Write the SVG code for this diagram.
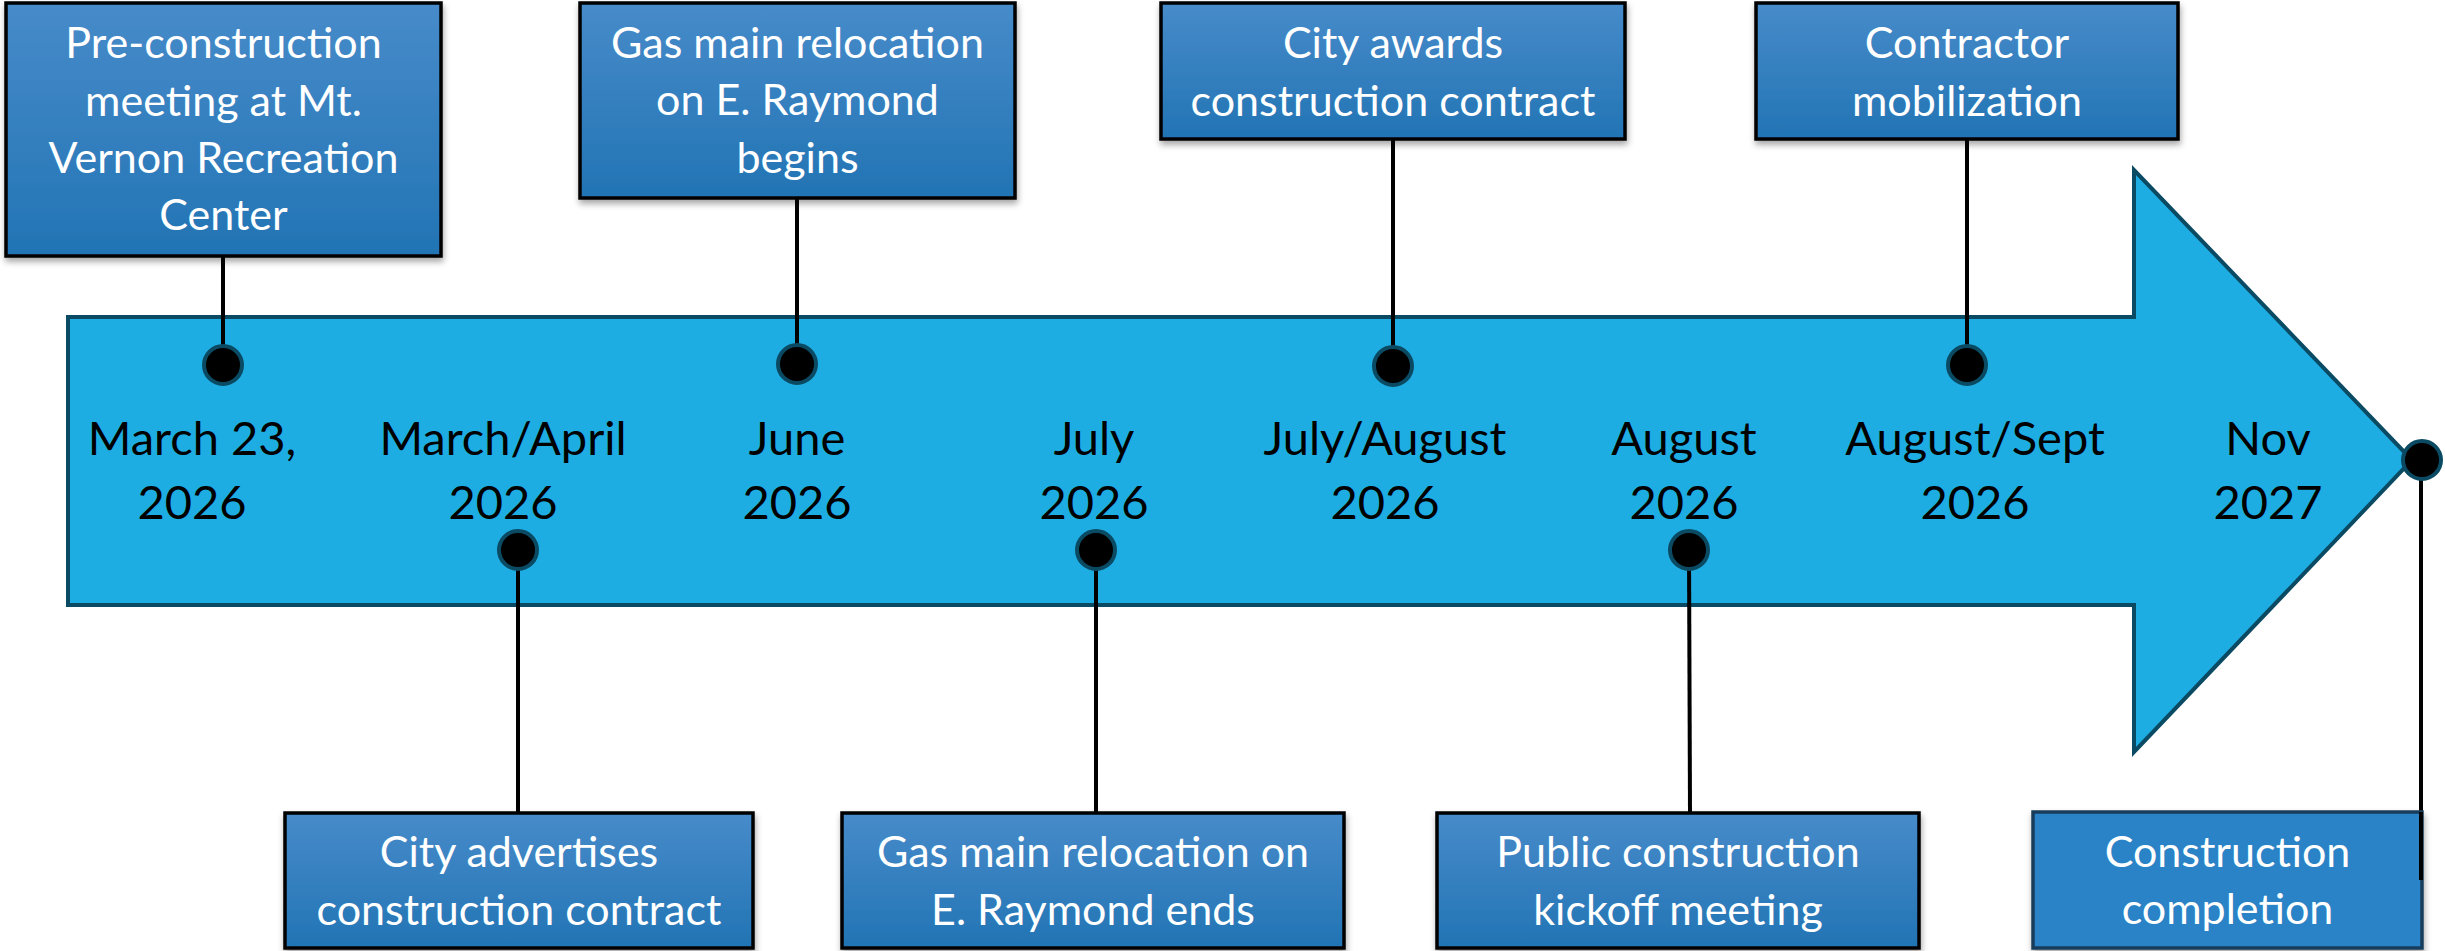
<svg xmlns="http://www.w3.org/2000/svg" width="2445" height="951" viewBox="0 0 2445 951">
<defs>
<linearGradient id="boxg" x1="0" y1="0" x2="0" y2="1">
<stop offset="0" stop-color="#478bca"/>
<stop offset="1" stop-color="#2274b4"/>
</linearGradient>
<filter id="sh" x="-5%" y="-10%" width="110%" height="125%">
<feDropShadow dx="1" dy="4" stdDeviation="3" flood-color="#000" flood-opacity="0.35"/>
</filter>
<style>
.box{fill:url(#boxg);stroke:#000;stroke-width:3.5;filter:url(#sh)}
.box2{fill:#2983c6;stroke:#173d5c;stroke-width:3.5;filter:url(#sh)}
.bt{font-family:Lato,"Open Sans","Liberation Sans",sans-serif;font-size:43px;fill:#fff;text-anchor:middle}
.dt{font-family:Lato,"Open Sans","Liberation Sans",sans-serif;font-size:47px;fill:#000;text-anchor:middle}
.ln{stroke:#000;stroke-width:4;fill:none}
.dot{fill:#000;stroke:#0b4a63;stroke-width:4}
</style>
</defs>
<rect width="2445" height="951" fill="#fff"/>
<g id="timeline-arrow">
<polygon points="68,317 2134,317 2134,170 2412,460 2134,752 2134,605 68,605" fill="#1eade3" stroke="#0b4a63" stroke-width="4" stroke-linejoin="miter"/>
</g>
<g id="dates">
<text class="dt" x="192" y="455">March 23,</text><text class="dt" x="192" y="519">2026</text>
<text class="dt" x="503" y="455">March/April</text><text class="dt" x="503" y="519">2026</text>
<text class="dt" x="797" y="455">June</text><text class="dt" x="797" y="519">2026</text>
<text class="dt" x="1094" y="455">July</text><text class="dt" x="1094" y="519">2026</text>
<text class="dt" x="1385" y="455">July/August</text><text class="dt" x="1385" y="519">2026</text>
<text class="dt" x="1684" y="455">August</text><text class="dt" x="1684" y="519">2026</text>
<text class="dt" x="1975" y="455">August/Sept</text><text class="dt" x="1975" y="519">2026</text>
<text class="dt" x="2268" y="455">Nov</text><text class="dt" x="2268" y="519">2027</text>
</g>
<g id="connectors">
<line class="ln" x1="223" y1="256" x2="223" y2="365"/>
<line class="ln" x1="797" y1="198" x2="797" y2="364"/>
<line class="ln" x1="1393" y1="139" x2="1393" y2="366"/>
<line class="ln" x1="1967" y1="139" x2="1967" y2="365"/>
<line class="ln" x1="518" y1="550" x2="518" y2="813"/>
<line class="ln" x1="1096" y1="550" x2="1096" y2="813"/>
<line class="ln" x1="1689" y1="550" x2="1690" y2="813"/>
<line class="ln" x1="2421" y1="460" x2="2421" y2="880"/>
<circle class="dot" cx="223" cy="365" r="19"/>
<circle class="dot" cx="797" cy="364" r="19"/>
<circle class="dot" cx="1393" cy="366" r="19"/>
<circle class="dot" cx="1967" cy="365" r="19"/>
<circle class="dot" cx="518" cy="550" r="19"/>
<circle class="dot" cx="1096" cy="550" r="19"/>
<circle class="dot" cx="1689" cy="550" r="19"/>
<circle class="dot" cx="2422" cy="460" r="19"/>
</g>
<g id="n-preconstruction">
<rect class="box" x="6" y="3" width="435" height="253"/>
<text class="bt" x="223.5" y="58">Pre-construction</text>
<text class="bt" x="223.5" y="116">meeting at Mt.</text>
<text class="bt" x="223.5" y="173">Vernon Recreation</text>
<text class="bt" x="223.5" y="230">Center</text>
</g>
<g id="n-gas-begins">
<rect class="box" x="580" y="3" width="435" height="195"/>
<text class="bt" x="797.5" y="58">Gas main relocation</text>
<text class="bt" x="797.5" y="115">on E. Raymond</text>
<text class="bt" x="797.5" y="173">begins</text>
</g>
<g id="n-awards">
<rect class="box" x="1161" y="3" width="464" height="136"/>
<text class="bt" x="1393" y="58">City awards</text>
<text class="bt" x="1393" y="116">construction contract</text>
</g>
<g id="n-mobilization">
<rect class="box" x="1756" y="3" width="422" height="136"/>
<text class="bt" x="1967" y="58">Contractor</text>
<text class="bt" x="1967" y="116">mobilization</text>
</g>
<g id="n-advertises">
<rect class="box" x="285" y="813" width="468" height="135"/>
<text class="bt" x="519" y="867">City advertises</text>
<text class="bt" x="519" y="925">construction contract</text>
</g>
<g id="n-gas-ends">
<rect class="box" x="842" y="813" width="502" height="135"/>
<text class="bt" x="1093" y="867">Gas main relocation on</text>
<text class="bt" x="1093" y="925">E. Raymond ends</text>
</g>
<g id="n-kickoff">
<rect class="box" x="1437" y="813" width="482" height="135"/>
<text class="bt" x="1678" y="867">Public construction</text>
<text class="bt" x="1678" y="925">kickoff meeting</text>
</g>
<g id="n-completion">
<rect class="box2" x="2033" y="812" width="389" height="136"/>
<text class="bt" x="2227.5" y="867">Construction</text>
<text class="bt" x="2227.5" y="924">completion</text>
</g>
<line class="ln" x1="2421" y1="812" x2="2421" y2="880"/>
</svg>
